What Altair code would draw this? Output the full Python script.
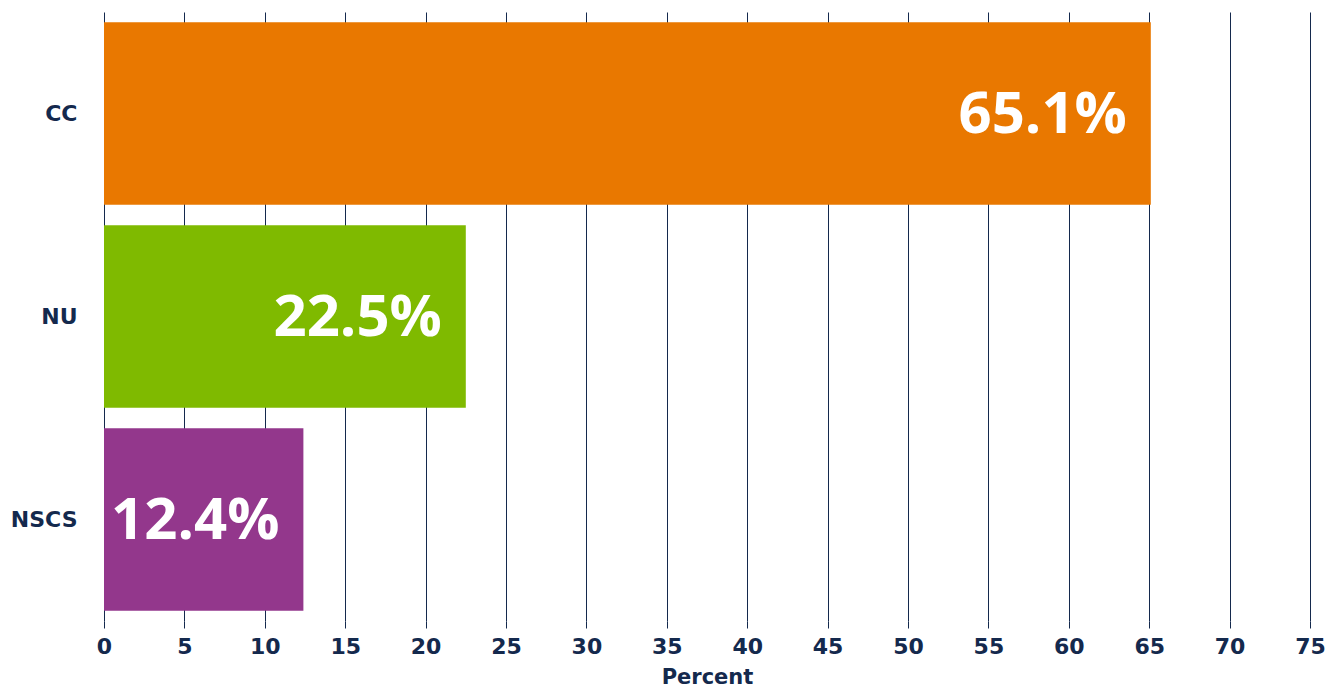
import altair as alt
import pandas as pd

categories = ["CC", "NU", "NSCS"]
values = [65.1, 22.5, 12.4]
labels = ["65.1%", "22.5%", "12.4%"]
colors = ["#E97800", "#7FBA00", "#93378C"]
ticks = list(range(0, 80, 5))

df = pd.DataFrame({"cat": categories, "val": values, "lab": labels})

NAVY = "#14294D"
AXFONT = "DejaVu Sans"
FONT = "Open Sans"

y_enc = alt.Y("cat:N", sort=categories, title=None,
              scale=alt.Scale(paddingInner=0.1, paddingOuter=0.05),
              axis=alt.Axis(ticks=False, domain=False, labelPadding=27,
                            labelFontSize=22, labelFontWeight="bold",
                            labelColor=NAVY, labelFont=AXFONT, grid=False))
x_enc = alt.X("val:Q", title="Percent",
              scale=alt.Scale(domain=[0, 75], nice=False),
              axis=alt.Axis(values=ticks, grid=True, gridColor=NAVY, gridWidth=1,
                            gridOpacity=1, domain=False, ticks=True, tickSize=7,
                            tickColor=NAVY, tickWidth=1, labelPadding=8,
                            labelFlush=False,
                            labelFontSize=22, labelFontWeight="bold", labelColor=NAVY,
                            labelFont=AXFONT, titleFont=AXFONT, titleFontSize=21,
                            titleFontWeight="bold", titleColor=NAVY, titlePadding=9))

bars = alt.Chart(df).mark_bar().encode(
    x=x_enc, y=y_enc,
    color=alt.Color("cat:N", scale=alt.Scale(domain=categories, range=colors), legend=None),
)
text = alt.Chart(df).mark_text(align="right", baseline="middle", dx=-24, dy=2,
                               color="white", fontSize=58, fontWeight="bold",
                               font=FONT).encode(
    x="val:Q", y=alt.Y("cat:N", sort=categories), text="lab:N")

chart = alt.layer(bars, text).properties(
    width=1206, height=609,
    autosize=alt.AutoSizeParams(type="none"),
    padding={"left": 104, "top": 12, "right": 28, "bottom": 68},
).configure_view(stroke=None)

chart.save("out.html", embed_options={"renderer": "svg", "actions": False})
